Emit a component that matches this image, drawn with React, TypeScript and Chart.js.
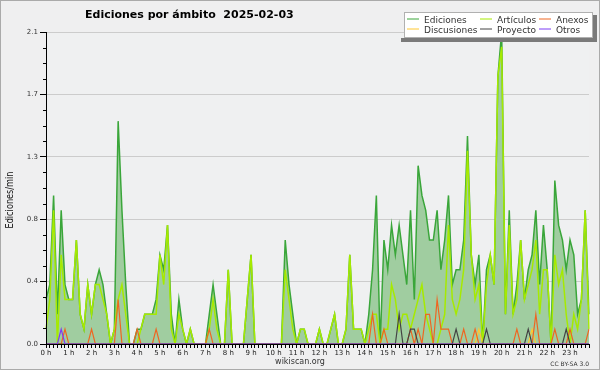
import React, { useEffect, useRef } from 'react';
import { Chart, registerables } from 'chart.js';

Chart.register(...registerables);

const TITLE = 'Ediciones por ámbito  2025-02-03';
const Y_TITLE = 'Ediciones/min';
const FOOTER_LEFT = 'wikiscan.org';
const FOOTER_RIGHT = 'CC BY-SA 3.0';

const hourLabels = [
  '0 h', '1 h', '2 h', '3 h', '4 h', '5 h', '6 h', '7 h', '8 h', '9 h', '10 h', '11 h',
  '12 h', '13 h', '14 h', '15 h', '16 h', '17 h', '18 h', '19 h', '20 h', '21 h', '22 h', '23 h',
];
const slotMinutes = ['00', '10', '20', '30', '40', '50'];
const slotLabels = hourLabels.flatMap((h) => slotMinutes.map((m) => `${h.replace(' h', '')}:${m}`));

const yMajorTicks = [0, 0.42, 0.84, 1.26, 1.68, 2.1];
const yMajorLabels = ['0.0', '0.4', '0.8', '1.3', '1.7', '2.1'];
const yMinorPerMajor = 4;
const yTicks: number[] = [];
yMajorTicks.forEach((v, i) => {
  yTicks.push(v);
  if (i < yMajorTicks.length - 1) {
    const step = (yMajorTicks[i + 1] - v) / yMinorPerMajor;
    for (let k = 1; k < yMinorPerMajor; k++) yTicks.push(v + step * k);
  }
});

// 10-minute slots, edits per minute (one row per hour)
const ediciones = [
  0.3, 0.4, 1.0, 0.2, 0.9, 0.4,
  0.3, 0.3, 0.7, 0.2, 0.1, 0.4,
  0.2, 0.4, 0.5, 0.4, 0.2, 0.0,
  0.1, 1.5, 0.9, 0.4, 0.0, 0.0,
  0.1, 0.1, 0.2, 0.2, 0.2, 0.3,
  0.6, 0.5, 0.8, 0.2, 0.0, 0.3,
  0.1, 0.0, 0.1, 0.0, 0.0, 0.0,
  0.0, 0.2, 0.4, 0.2, 0.0, 0.0,
  0.5, 0.0, 0.0, 0.0, 0.0, 0.3,
  0.6, 0.0, 0.0, 0.0, 0.0, 0.0,
  0.0, 0.0, 0.0, 0.7, 0.4, 0.2,
  0.0, 0.1, 0.1, 0.0, 0.0, 0.0,
  0.1, 0.0, 0.0, 0.1, 0.2, 0.0,
  0.0, 0.1, 0.6, 0.1, 0.1, 0.1,
  0.0, 0.2, 0.5, 1.0, 0.0, 0.7,
  0.5, 0.8, 0.6, 0.8, 0.6, 0.4,
  0.9, 0.3, 1.2, 1.0, 0.9, 0.7,
  0.7, 0.9, 0.5, 0.7, 1.0, 0.4,
  0.5, 0.5, 0.7, 1.4, 0.6, 0.4,
  0.6, 0.0, 0.5, 0.6, 0.4, 1.8,
  2.1, 0.2, 0.9, 0.2, 0.4, 0.7,
  0.3, 0.5, 0.6, 0.9, 0.4, 0.8,
  0.5, 0.0, 1.1, 0.8, 0.7, 0.5,
  0.7, 0.6, 0.2, 0.3, 0.9, 0.2,
];

const articulos = [
  0.1, 0.3, 0.9, 0.0, 0.6, 0.3,
  0.3, 0.3, 0.7, 0.2, 0.1, 0.4,
  0.2, 0.4, 0.4, 0.3, 0.2, 0.0,
  0.1, 0.3, 0.4, 0.2, 0.0, 0.0,
  0.0, 0.1, 0.2, 0.2, 0.2, 0.2,
  0.6, 0.4, 0.8, 0.1, 0.0, 0.2,
  0.1, 0.0, 0.1, 0.0, 0.0, 0.0,
  0.0, 0.1, 0.3, 0.1, 0.0, 0.0,
  0.5, 0.0, 0.0, 0.0, 0.0, 0.3,
  0.6, 0.0, 0.0, 0.0, 0.0, 0.0,
  0.0, 0.0, 0.0, 0.5, 0.3, 0.1,
  0.0, 0.1, 0.1, 0.0, 0.0, 0.0,
  0.1, 0.0, 0.0, 0.1, 0.2, 0.0,
  0.0, 0.1, 0.6, 0.1, 0.1, 0.1,
  0.0, 0.1, 0.2, 0.2, 0.0, 0.1,
  0.1, 0.4, 0.3, 0.1, 0.2, 0.2,
  0.1, 0.2, 0.3, 0.4, 0.2, 0.1,
  0.0, 0.0, 0.1, 0.2, 0.8, 0.3,
  0.2, 0.3, 0.5, 1.3, 0.6, 0.3,
  0.4, 0.0, 0.4, 0.6, 0.4, 1.8,
  2.0, 0.2, 0.8, 0.2, 0.3, 0.7,
  0.3, 0.4, 0.5, 0.7, 0.2, 0.5,
  0.5, 0.0, 0.6, 0.4, 0.5, 0.2,
  0.0, 0.2, 0.1, 0.3, 0.9, 0.1,
];

const anexos = [
  0, 0, 0, 0, 0, 0.1,
  0, 0, 0, 0, 0, 0,
  0.1, 0, 0, 0, 0, 0,
  0, 0.3, 0, 0, 0, 0,
  0.1, 0, 0, 0, 0, 0.1,
  0, 0, 0, 0, 0, 0,
  0, 0, 0, 0, 0, 0,
  0, 0.1, 0, 0, 0, 0,
  0, 0, 0, 0, 0, 0,
  0, 0, 0, 0, 0, 0,
  0, 0, 0, 0, 0, 0,
  0, 0, 0, 0, 0, 0,
  0, 0, 0, 0, 0, 0,
  0, 0, 0, 0, 0, 0,
  0, 0, 0.2, 0, 0, 0.1,
  0, 0, 0, 0, 0, 0,
  0.1, 0, 0.1, 0, 0.2, 0.2,
  0, 0.3, 0.1, 0.1, 0.1, 0,
  0, 0, 0.1, 0, 0, 0.1,
  0, 0, 0, 0, 0, 0,
  0, 0, 0, 0, 0.1, 0,
  0, 0, 0, 0.2, 0, 0,
  0, 0, 0.1, 0, 0, 0,
  0.1, 0, 0, 0, 0, 0.1,
];

const discusiones = [
  0, 0, 0, 0, 0, 0,
  0, 0, 0, 0, 0, 0,
  0, 0, 0, 0, 0, 0,
  0, 0, 0, 0, 0, 0,
  0, 0, 0, 0, 0, 0,
  0, 0, 0, 0, 0, 0,
  0, 0, 0, 0, 0, 0,
  0, 0, 0, 0, 0, 0,
  0, 0, 0, 0, 0, 0,
  0, 0, 0, 0, 0, 0,
  0, 0, 0, 0, 0, 0,
  0, 0, 0, 0, 0, 0,
  0, 0, 0, 0, 0, 0,
  0, 0, 0, 0, 0, 0,
  0, 0, 0, 0, 0, 0,
  0, 0, 0, 0, 0, 0,
  0, 0, 0, 0, 0, 0,
  0, 0, 0, 0, 0, 0,
  0, 0, 0, 0, 0, 0,
  0.1, 0, 0, 0, 0, 0,
  0, 0, 0, 0, 0, 0,
  0, 0, 0.1, 0, 0, 0,
  0, 0, 0, 0, 0, 0,
  0, 0, 0, 0, 0, 0,
];

const proyecto = [
  0, 0, 0, 0, 0, 0,
  0, 0, 0, 0, 0, 0,
  0, 0, 0, 0, 0, 0,
  0, 0, 0, 0, 0, 0,
  0, 0, 0, 0, 0, 0,
  0, 0, 0, 0, 0, 0,
  0, 0, 0, 0, 0, 0,
  0, 0, 0, 0, 0, 0,
  0, 0, 0, 0, 0, 0,
  0, 0, 0, 0, 0, 0,
  0, 0, 0, 0, 0, 0,
  0, 0, 0, 0, 0, 0,
  0, 0, 0, 0, 0, 0,
  0, 0, 0, 0, 0, 0,
  0, 0, 0, 0, 0, 0,
  0, 0, 0, 0.2, 0, 0,
  0.1, 0.1, 0, 0, 0, 0,
  0, 0, 0, 0, 0, 0,
  0.1, 0, 0, 0, 0, 0,
  0, 0, 0.1, 0, 0, 0,
  0, 0, 0, 0, 0, 0,
  0, 0.1, 0, 0, 0, 0,
  0, 0, 0, 0, 0, 0.1,
  0, 0, 0, 0, 0, 0,
];

const otros = [
  0, 0, 0, 0, 0.1, 0,
  0, 0, 0, 0, 0, 0,
  0, 0, 0, 0, 0, 0,
  0, 0, 0, 0, 0, 0,
  0, 0, 0, 0, 0, 0,
  0, 0, 0, 0, 0, 0,
  0, 0, 0, 0, 0, 0,
  0, 0, 0, 0, 0, 0,
  0, 0, 0, 0, 0, 0,
  0, 0, 0, 0, 0, 0,
  0, 0, 0, 0, 0, 0,
  0, 0, 0, 0, 0, 0,
  0, 0, 0, 0, 0, 0,
  0, 0, 0, 0, 0, 0,
  0, 0, 0, 0, 0, 0,
  0, 0, 0, 0, 0, 0,
  0, 0, 0, 0, 0, 0,
  0, 0, 0, 0, 0, 0,
  0, 0, 0, 0, 0, 0,
  0, 0, 0, 0, 0, 0,
  0, 0, 0, 0, 0, 0,
  0, 0, 0, 0, 0, 0,
  0, 0, 0, 0, 0, 0,
  0, 0, 0, 0, 0, 0,
];

const seriesNames = ['Ediciones', 'Artículos', 'Anexos', 'Discusiones', 'Proyecto', 'Otros'];
const seriesColors = ['#3aa63a', '#a6ea00', '#ee6622', '#ffc830', '#444444', '#7d3cf5'];
const editsFill = '#a0cda0';

const FONT = "'DejaVu Sans', 'Liberation Sans', sans-serif";

const decorPlugin = {
  id: 'decor',
  beforeDraw(chart: any) {
    const { ctx, width, height, chartArea } = chart;
    ctx.save();
    ctx.fillStyle = '#efeff0';
    ctx.fillRect(0, 0, width, height);
    ctx.fillStyle = '#eff0f1';
    ctx.fillRect(chartArea.left, chartArea.top, chartArea.right - chartArea.left, chartArea.bottom - chartArea.top);
    ctx.restore();
  },
  afterDraw(chart: any) {
    const { ctx, width, height, chartArea } = chart;
    const yScale = chart.scales.y;
    ctx.save();

    // minor y ticks
    ctx.strokeStyle = '#000';
    ctx.lineWidth = 1;
    yTicks.forEach((v, i) => {
      if (i % yMinorPerMajor === 0) return;
      const py = Math.round(yScale.getPixelForValue(v)) + 0.5;
      ctx.beginPath();
      ctx.moveTo(chartArea.left - 3, py);
      ctx.lineTo(chartArea.left, py);
      ctx.stroke();
    });

    // title
    ctx.fillStyle = '#000';
    ctx.font = `bold 11px ${FONT}`;
    ctx.textAlign = 'left';
    ctx.textBaseline = 'alphabetic';
    ctx.fillText(TITLE, 85, 18);

    // y title (rotated)
    ctx.save();
    ctx.font = `10px ${FONT}`;
    const w = ctx.measureText(Y_TITLE).width;
    ctx.translate(10, 200);
    ctx.rotate(-Math.PI / 2);
    ctx.scale(57 / w, 1);
    ctx.textAlign = 'center';
    ctx.textBaseline = 'middle';
    ctx.fillStyle = '#111';
    ctx.fillText(Y_TITLE, 0, 0);
    ctx.restore();

    // legend
    const bx = 404, by = 12, bw = 189, bh = 26;
    ctx.fillStyle = '#7a7a7a';
    ctx.fillRect(401, by + bh, bw + 7, 4);
    ctx.fillRect(bx + bw, by + 3, 4, bh + 1);
    ctx.fillStyle = '#ffffff';
    ctx.fillRect(bx, by, bw, bh);
    ctx.strokeStyle = '#b0b0b0';
    ctx.strokeRect(bx + 0.5, by + 0.5, bw - 1, bh - 1);
    const cols = [407, 480, 539];
    const rows = [{ ly: 19, ty: 22.5 }, { ly: 29, ty: 33 }];
    const order = [0, 1, 2, 3, 4, 5];
    ctx.font = `9px ${FONT}`;
    ctx.textAlign = 'left';
    ctx.textBaseline = 'alphabetic';
    order.forEach((si, k) => {
      const col = cols[k % 3];
      const row = rows[Math.floor(k / 3)];
      ctx.strokeStyle = seriesColors[si];
      ctx.lineWidth = 1;
      ctx.beginPath();
      ctx.moveTo(col, row.ly);
      ctx.lineTo(col + 12, row.ly);
      ctx.stroke();
      ctx.fillStyle = '#333';
      ctx.fillText(seriesNames[si], col + 17, row.ty);
    });

    // footer
    ctx.fillStyle = '#333';
    ctx.font = `8px ${FONT}`;
    ctx.textAlign = 'center';
    ctx.fillText(FOOTER_LEFT, 300, 364);
    ctx.font = `6px ${FONT}`;
    ctx.textAlign = 'right';
    ctx.fillText(FOOTER_RIGHT, 589, 365.5);

    // outer border
    ctx.strokeStyle = '#aaaaaa';
    ctx.lineWidth = 1;
    ctx.strokeRect(0.5, 0.5, width - 1, height - 1);
    ctx.restore();
  },
};

export default function App() {
  const canvasRef = useRef<HTMLCanvasElement | null>(null);

  useEffect(() => {
    const canvas = canvasRef.current;
    if (!canvas) return;
    const seriesData = [ediciones, articulos, anexos, discusiones, proyecto, otros];
    const orders = [10, 5, 3, 4, 2, 1];
    const chart = new Chart(canvas, {
      type: 'line',
      data: {
        labels: slotLabels,
        datasets: seriesData.map((d, i) => ({
          label: seriesNames[i],
          data: d,
          borderColor: seriesColors[i],
          backgroundColor: i === 0 ? editsFill : seriesColors[i],
          fill: i === 0 ? 'origin' : false,
          borderWidth: i < 2 ? 1.5 : 1.2,
          pointRadius: 0,
          tension: 0,
          order: orders[i],
        })),
      },
      options: {
        responsive: false,
        animation: false,
        devicePixelRatio: 1,
        layout: { padding: { top: 32, right: 11, bottom: 0, left: 0 } },
        plugins: { legend: { display: false }, title: { display: false }, tooltip: { enabled: false } },
        scales: {
          x: {
            type: 'category',
            offset: false,
            grid: { display: true, drawOnChartArea: false, drawTicks: true, tickLength: 4, tickColor: '#000' },
            border: { display: true, color: '#000', z: 1 },
            ticks: {
              autoSkip: false,
              maxRotation: 0,
              minRotation: 0,
              padding: 1,
              color: '#222',
              font: { family: FONT, size: 7 },
              callback: (_v: any, i: number) => (i % 6 === 0 ? hourLabels[i / 6] : ''),
            },
            afterFit: (s: any) => { s.height = 26; },
          },
          y: {
            min: 0,
            max: 2.1,
            afterBuildTicks: (s: any) => { s.ticks = yTicks.map((v) => ({ value: v })); },
            grid: {
              color: (c: any) => (c.index % yMinorPerMajor === 0 ? '#cccccc' : 'rgba(0,0,0,0)'),
              tickColor: (c: any) => (c.index % yMinorPerMajor === 0 ? '#000' : 'rgba(0,0,0,0)'),
              drawTicks: true,
              tickLength: 6,
            },
            border: { display: true, color: '#000', z: 1 },
            ticks: {
              padding: 2,
              color: '#333',
              font: { family: FONT, size: 7 },
              callback: (_v: any, i: number) => (i % yMinorPerMajor === 0 ? yMajorLabels[i / yMinorPerMajor] : ''),
            },
            afterFit: (s: any) => { s.width = 46; },
          },
        },
      },
      plugins: [decorPlugin],
    } as any);
    return () => chart.destroy();
  }, []);

  return (
    <div style={{ position: 'absolute', left: 0, top: 0, width: 600, height: 370 }}>
      <canvas ref={canvasRef} width={600} height={370} style={{ display: 'block', width: 600, height: 370 }} />
    </div>
  );
}
